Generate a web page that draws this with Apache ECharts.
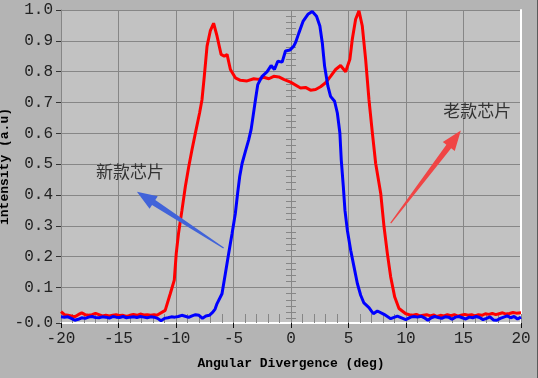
<!DOCTYPE html>
<html><head><meta charset="utf-8">
<script src="https://cdn.jsdelivr.net/npm/echarts@6/dist/echarts.min.js"></script>
<style>html,body{margin:0;padding:0;background:#b4b4b4;}#c{width:537px;height:378px;border-right:1px solid #5a5a5a;}</style>
</head><body><div id="c"></div>
<script>
// axis ranges and tick labels
const xMin = -20, xMax = 20, xStep = 5;
const yMin = -0.015, yMax = 1.0;
const yTickValues = [yMin, 0.1, 0.2, 0.3, 0.4, 0.5, 0.6, 0.7, 0.8, 0.9, 1.0];
const rulerTicks = [];
for (let i = 0; i <= 50; i++) rulerTicks.push(+(i * 0.02).toFixed(2));

// old chip (red)
const redX = [-20,-19.7,-19.4,-19.1,-18.8,-18.5,-18.2,-17.9,-17.6,-17.3,-17.0,-16.7,-16.4,-16.1,-15.8,-15.5,-15.2,-14.9,-14.6,-14.3,-14.0,-13.7,-13.4,-13.1,-12.8,-12.5,-12.2,-11.9,-11.66,-10.94,-10.5,-10.15,-9.98,-9.78,-9.48,-9.19,-8.9,-8.61,-8.32,-7.95,-7.74,-7.54,-7.30,-7.02,-6.73,-6.43,-6.08,-5.8,-5.56,-5.27,-4.84,-4.4,-3.82,-3.24,-2.8,-2.37,-1.93,-1.5,-1.06,-0.63,-0.04,0.83,1.26,1.7,2.14,2.57,3.01,3.44,3.88,4.31,4.75,5.12,5.33,5.62,5.91,6.2,6.49,6.78,7.08,7.36,7.8,8.09,8.38,8.67,9.02,9.39,9.98,10.3,10.6,10.9,11.2,11.5,11.8,12.1,12.4,12.7,13.0,13.3,13.6,13.9,14.2,14.5,14.8,15.1,15.4,15.7,16.0,16.3,16.6,16.9,17.2,17.5,17.8,18.1,18.4,18.7,19.0,19.3,19.6,20];
const redY = [0.022,0.012,0.010,0.008,0.005,0.012,0.018,0.012,0.010,0.012,0.016,0.012,0.008,0.010,0.008,0.010,0.012,0.009,0.010,0.006,0.010,0.013,0.010,0.014,0.011,0.012,0.010,0.012,0.010,0.026,0.08,0.124,0.21,0.276,0.351,0.427,0.49,0.547,0.60,0.666,0.709,0.785,0.883,0.932,0.957,0.915,0.856,0.85,0.856,0.807,0.78,0.772,0.77,0.777,0.775,0.782,0.777,0.785,0.783,0.775,0.766,0.747,0.749,0.74,0.742,0.751,0.764,0.785,0.807,0.82,0.80,0.84,0.905,0.97,0.997,0.948,0.84,0.709,0.60,0.503,0.406,0.297,0.21,0.134,0.069,0.032,0.015,0.012,0.010,0.013,0.008,0.010,0.012,0.008,0.011,0.006,0.010,0.008,0.012,0.009,0.012,0.007,0.010,0.013,0.010,0.012,0.008,0.012,0.010,0.015,0.013,0.016,0.012,0.015,0.018,0.014,0.016,0.019,0.017,0.018];

// new chip (blue)
const blueX = [-20,-19.7,-19.4,-19.1,-18.8,-18.5,-18.2,-17.9,-17.6,-17.3,-17.0,-16.7,-16.4,-16.1,-15.8,-15.5,-15.2,-14.9,-14.6,-14.3,-14.0,-13.7,-13.4,-13.1,-12.8,-12.5,-12.2,-11.9,-11.6,-11.3,-11.0,-10.7,-10.4,-10.1,-9.8,-9.5,-9.2,-8.9,-8.6,-8.3,-8.0,-7.7,-7.4,-7.1,-6.8,-6.6,-6.43,-6.0,-5.71,-5.42,-5.12,-4.84,-4.64,-4.46,-4.25,-3.97,-3.68,-3.47,-3.3,-3.09,-2.89,-2.51,-2.07,-1.73,-1.44,-1.15,-0.77,-0.48,-0.1,0.24,0.39,0.68,1.06,1.47,1.85,2.22,2.51,2.72,2.92,3.21,3.44,3.79,4.03,4.25,4.37,4.55,4.69,4.9,5.19,5.48,5.77,6.06,6.34,6.78,7.16,7.51,8.09,8.67,9.25,9.98,10.41,10.7,11.0,11.3,11.6,11.9,12.2,12.5,12.8,13.1,13.4,13.7,14.0,14.3,14.6,14.9,15.2,15.5,15.8,16.1,16.4,16.7,17.0,17.3,17.6,17.9,18.2,18.5,18.8,19.1,19.4,19.7,20];
const blueY = [0.005,0.004,0.005,0.0,-0.006,-0.003,0.002,0.0,0.004,0.006,0.003,0.002,0.005,0.004,0.001,0.006,0.004,0.003,0.006,0.002,0.004,0.005,0.003,0.006,0.004,0.002,0.005,0.004,0.0,-0.008,0.0,0.002,0.005,0.004,0.006,0.010,0.007,0.003,0.008,0.012,0.010,0.0,0.008,0.010,0.020,0.030,0.048,0.08,0.145,0.21,0.276,0.34,0.406,0.46,0.503,0.541,0.579,0.612,0.655,0.709,0.758,0.785,0.80,0.82,0.807,0.834,0.831,0.867,0.870,0.883,0.894,0.925,0.964,0.986,0.995,0.98,0.948,0.894,0.818,0.753,0.72,0.704,0.666,0.601,0.514,0.427,0.351,0.286,0.221,0.167,0.113,0.075,0.05,0.035,0.015,0.024,0.013,-0.001,0.007,-0.004,0.004,0.006,0.004,0.007,0.002,-0.006,0.002,0.006,0.003,0.0,0.005,0.004,-0.003,0.004,0.006,0.002,-0.002,0.004,0.002,0.006,0.003,-0.004,0.0,0.005,-0.005,-0.006,0.0,0.004,0.008,0.002,0.006,-0.002,0.004];

// annotations
const noteText = ['新款芯片', '老款芯片'];
const noteX = [-14.0, 16.2];
const noteY = [0.476, 0.674];
const arrowTailX = [-5.86, 8.67];
const arrowTailY = [0.228, 0.309];
const arrowHeadX = [-13.4, 14.77];
const arrowHeadY = [0.411, 0.609];
const arrowColor = ['#4163d9', '#f04545'];

const monoFont = '"Liberation Mono", "DejaVu Sans Mono", monospace';
const gridColor = '#868686';

const chart = echarts.init(document.getElementById('c'), null, {renderer: 'canvas'});
chart.setOption({
  backgroundColor: '#b4b4b4',
  animation: false,
  grid: {left: 61, right: 16, top: 10, bottom: 55, show: true, backgroundColor: '#c2c2c2', borderWidth: 0, outerBoundsMode: 'none'},
  xAxis: [{
    type: 'value', min: xMin, max: xMax, interval: xStep, position: 'bottom',
    axisLine: {onZero: false, lineStyle: {color: '#ffffff', width: 2}},
    axisTick: {length: 5, lineStyle: {color: '#111'}},
    axisLabel: {margin: 8, fontFamily: monoFont, fontSize: 16, color: '#222'},
    splitLine: {show: true, lineStyle: {color: gridColor, width: 1}},
    name: 'Angular Divergence (deg)', nameLocation: 'middle', nameGap: 34,
    nameTextStyle: {fontFamily: monoFont, fontSize: 13, fontWeight: 'bold', color: '#000'}
  }, {
    type: 'value', min: xMin, max: xMax, interval: 1, position: 'bottom',
    axisLine: {show: false, onZero: false},
    axisTick: {show: true, inside: true, length: 9, lineStyle: {color: gridColor}},
    axisLabel: {show: false}, splitLine: {show: false}
  }],
  yAxis: [{
    type: 'value', min: yMin, max: yMax, position: 'left',
    axisLine: {show: true, onZero: false, lineStyle: {color: gridColor, width: 1}},
    axisTick: {length: 5, customValues: yTickValues, lineStyle: {color: '#333'}},
    axisLabel: {margin: 8, customValues: yTickValues, fontFamily: monoFont, fontSize: 16, color: '#222',
      formatter: v => v.toFixed(1)},
    splitLine: {show: true, lineStyle: {color: gridColor, width: 1}},
    name: 'intensity (a.u)', nameLocation: 'middle', nameGap: 50, nameMoveOverlap: false,
    nameTextStyle: {fontFamily: monoFont, fontSize: 13, fontWeight: 'bold', color: '#000'}
  }, {
    type: 'value', min: yMin, max: yMax, position: 'left',
    axisLine: {show: false, onZero: true, onZeroAxisIndex: 0},
    axisTick: {show: true, inside: true, length: 5, customValues: rulerTicks, lineStyle: {color: gridColor}},
    axisLabel: {show: false}, splitLine: {show: false}
  }, {
    type: 'value', min: yMin, max: yMax, position: 'left',
    axisLine: {show: false, onZero: true, onZeroAxisIndex: 0},
    axisTick: {show: true, inside: false, length: 5, customValues: rulerTicks, lineStyle: {color: gridColor}},
    axisLabel: {show: false}, splitLine: {show: false}
  }, {
    type: 'value', min: yMin, max: yMax, position: 'right',
    axisLine: {show: true, onZero: false, lineStyle: {color: '#ffffff', width: 2}},
    axisTick: {show: false}, axisLabel: {show: false}, splitLine: {show: false}
  }],
  series: [{
    name: '老款芯片', type: 'line', showSymbol: false, xAxisIndex: 0, yAxisIndex: 0,
    data: redX.map((x, i) => [x, redY[i]]),
    lineStyle: {color: '#ff0000', width: 3}, itemStyle: {color: '#ff0000'}, z: 3
  }, {
    name: '新款芯片', type: 'line', showSymbol: false, xAxisIndex: 0, yAxisIndex: 0,
    data: blueX.map((x, i) => [x, blueY[i]]),
    lineStyle: {color: '#0000ff', width: 3}, itemStyle: {color: '#0000ff'}, z: 4
  }, {
    type: 'custom', xAxisIndex: 0, yAxisIndex: 0, z: 5, clip: false, silent: true,
    data: arrowTailX.map((x, i) => [x, arrowTailY[i], arrowHeadX[i], arrowHeadY[i]]),
    renderItem: function (params, api) {
      const t = api.coord([api.value(0), api.value(1)]);
      const h = api.coord([api.value(2), api.value(3)]);
      const dx = h[0] - t[0], dy = h[1] - t[1];
      const L = Math.sqrt(dx * dx + dy * dy);
      const ux = dx / L, uy = dy / L, nx = -uy, ny = ux;
      const headLen = 20, headW = 7.5, neckW = 3, tailW = 0.6;
      const bx = h[0] - ux * headLen, by = h[1] - uy * headLen;
      const pts = [
        [t[0] + nx * tailW, t[1] + ny * tailW],
        [bx + nx * neckW, by + ny * neckW],
        [bx + nx * headW, by + ny * headW],
        [h[0], h[1]],
        [bx - nx * headW, by - ny * headW],
        [bx - nx * neckW, by - ny * neckW],
        [t[0] - nx * tailW, t[1] - ny * tailW]
      ];
      return {type: 'polygon', shape: {points: pts}, style: {fill: arrowColor[params.dataIndex]}};
    }
  }, {
    type: 'custom', xAxisIndex: 0, yAxisIndex: 0, z: 5, clip: false, silent: true,
    data: noteX.map((x, i) => [x, noteY[i]]),
    renderItem: function (params, api) {
      const p = api.coord([api.value(0), api.value(1)]);
      return {type: 'text', x: p[0], y: p[1], style: {
        text: noteText[params.dataIndex], fontFamily: '"Noto Sans CJK SC", sans-serif', fontSize: 17,
        fill: '#333', textAlign: 'center', textVerticalAlign: 'middle'}};
    }
  }]
});
</script></body></html>
